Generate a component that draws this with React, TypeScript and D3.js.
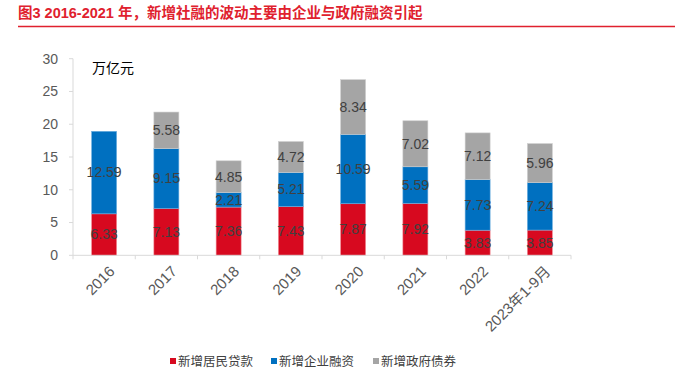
import React from "react";
import * as d3 from "d3";

const categories = ["2016", "2017", "2018", "2019", "2020", "2021", "2022", "2023年1-9月"];
const household = [6.33, 7.13, 7.36, 7.43, 7.87, 7.92, 3.83, 3.85];
const corporate = [12.59, 9.15, 2.21, 5.21, 10.59, 5.59, 7.73, 7.24];
const government = [0, 5.58, 4.85, 4.72, 8.34, 7.02, 7.12, 5.96];
const seriesNames = ["新增居民贷款", "新增企业融资", "新增政府债券"];
const yTicks = [0, 5, 10, 15, 20, 25, 30];

const colors = ["#D7091F", "#0070C0", "#A5A5A5"];
const strokes = ["#F08C96", "#6FB0E0", "#D0D0D0"];
const FONT = "'Liberation Sans', Arial, 'Noto Sans CJK SC', sans-serif";

export default function App() {
  const W = 675, H = 390;
  const x0 = 73, x1 = 571;
  const y = d3.scaleLinear().domain([0, 30]).range([255.3, 58.7]);
  const x = d3.scaleBand().domain(categories).range([x0, x1]).paddingInner(0).paddingOuter(0);
  const bw = 25;

  const rows = categories.map((c, i) => ({ c, v: [household[i], corporate[i], government[i]] }));
  const stack = d3.stack<any>().keys(["0", "1", "2"]).value((d: any, k: string) => d.v[+k]);
  const stacked = stack(rows as any);

  return (
    <svg width={W} height={H} style={{ position: "absolute", left: 0, top: 0, background: "#fff" }} fontFamily={FONT}>
      <text x={18} y={18} fill="#E0212E" fontSize={14.5} fontWeight="bold">图3  2016-2021 年，新增社融的波动主要由企业与政府融资引起</text>
      <line x1={18} x2={675} y1={26.5} y2={26.5} stroke="#E0212E" strokeWidth={1.6} />

      {/* y axis */}
      <line x1={x0} x2={x0} y1={y(30)} y2={y(0)} stroke="#D9D9D9" strokeWidth={1} />
      {yTicks.map((t) => (
        <g key={t}>
          <line x1={x0 - 4} x2={x0} y1={y(t)} y2={y(t)} stroke="#D9D9D9" />
          <text x={58} y={y(t)} dy="0.35em" textAnchor="end" fontSize={14} fill="#595959">{t}</text>
        </g>
      ))}
      <text x={92} y={73} fontSize={14} fill="#000">万亿元</text>

      {/* bars */}
      {stacked.map((s, si) => (
        <g key={si}>
          {s.map((d, i) => {
            const val = d[1] - d[0];
            if (val <= 0) return null;
            const cx = (x(categories[i]) as number) + x.bandwidth() / 2;
            const top = y(d[1]);
            const bot = y(d[0]);
            return (
              <g key={i}>
                <rect x={cx - bw / 2} y={top} width={bw} height={bot - top} fill={colors[si]} stroke={strokes[si]} strokeWidth={0.6} />
                <text x={cx} y={(top + bot) / 2} dy="0.35em" textAnchor="middle" fontSize={14} fill="#404040">{val.toFixed(2)}</text>
              </g>
            );
          })}
        </g>
      ))}

      {/* x axis */}
      <line x1={x0} x2={x1} y1={y(0)} y2={y(0)} stroke="#D9D9D9" />
      {d3.range(categories.length + 1).map((i) => {
        const px = x0 + i * x.bandwidth();
        return <line key={i} x1={px} x2={px} y1={y(0)} y2={y(0) + 4} stroke="#D9D9D9" />;
      })}
      {categories.map((c) => {
        const cx = (x(c) as number) + x.bandwidth() / 2;
        return (
          <text key={c} transform={`translate(${cx + 4},${265}) rotate(-45)`} textAnchor="end" dy="0.7em" fontSize={15} fill="#595959">{c}</text>
        );
      })}

      {/* legend */}
      {seriesNames.map((n, i) => {
        const lx = [170, 271, 373][i];
        return (
          <g key={n}>
            <rect x={lx} y={358} width={6} height={6} fill={colors[i]} />
            <text x={lx + 8} y={361.5} dy="0.35em" fontSize={12.5} fill="#404040">{n}</text>
          </g>
        );
      })}
    </svg>
  );
}
